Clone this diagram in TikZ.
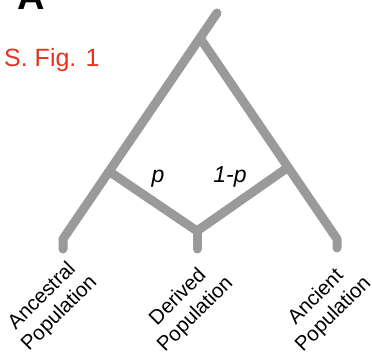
\documentclass[tikz,border=0pt]{standalone}
\usepackage{fontspec}
\setmainfont{Liberation Sans}
\definecolor{branch}{RGB}{154,154,154}
\definecolor{figred}{RGB}{232,50,30}
\tikzset{
  branchline/.style={draw=branch, line width=9pt, line cap=round, line join=round},
  poplabel/.style={rotate=45, align=center, inner sep=0pt, font=\fontsize{20.5}{24.5}\selectfont},
  plabel/.style={anchor=base, inner sep=0pt, font=\fontsize{23}{27}\selectfont\itshape},
}
\begin{document}
\begin{tikzpicture}[x=1pt,y=-1pt]
\useasboundingbox (0,0) rectangle (372,357);
% coordinates
\coordinate (R) at (217,13);
\coordinate (J) at (200,38);
\coordinate (L) at (110,172);
\coordinate (Rj) at (287,168);
\coordinate (LB) at (63,239);
\coordinate (LE) at (63,249);
\coordinate (DB) at (197,231);
\coordinate (DE) at (197,249);
\coordinate (RB) at (337,239);
\coordinate (RE) at (337,248);
% branches
\draw[branchline] (R) -- (LB) -- (LE);
\draw[branchline] (J) -- (RB) -- (RE);
\draw[branchline] (L) -- (DB) -- (Rj);
\draw[branchline] (DB) -- (DE);
% labels
\node[anchor=base west, inner sep=0pt, font=\fontsize{38}{42}\selectfont\bfseries] (lblA) at (17,9) {A};
\node[anchor=base west, inner sep=0pt, text=figred, font=\fontsize{25}{29}\selectfont] (lblS) at (4,66) {S. Fig. 1};
\node[plabel] (lp) at (158,182) {p};
\node[plabel] (lq) at (230,182) {1-p};
\node[poplabel] (anc) at (51,305) {Ancestral\\Population};
\node[poplabel] (der) at (187,306) {Derived\\Population};
\node[poplabel] (ant) at (325,306) {Ancient\\Population};
\end{tikzpicture}
\end{document}
